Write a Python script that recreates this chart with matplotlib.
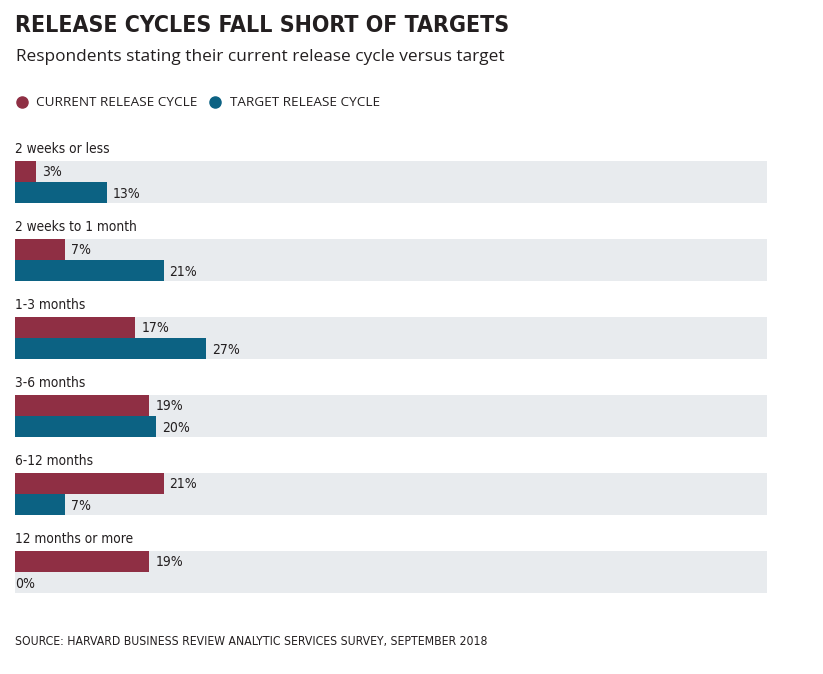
import matplotlib
matplotlib.use("Agg")
import matplotlib.pyplot as plt
from matplotlib.lines import Line2D

# data
categories = ["2 weeks or less", "2 weeks to 1 month", "1-3 months",
              "3-6 months", "6-12 months", "12 months or more"]
current = [3, 7, 17, 19, 21, 19]
target = [13, 21, 27, 20, 7, 0]

c_cur = "#8f2f44"
c_tgt = "#0c6283"
c_band = "#e8ebee"
c_text = "#231f20"

narrow = dict(family="DejaVu Sans", stretch="condensed")
plain = ["Open Sans", "DejaVu Sans"]

W, H = 823, 674
fig = plt.figure(figsize=(W / 100, H / 100), dpi=100)

# axes spans the grey bands (pixels 15..767 wide, 161..593 tall)
ax = fig.add_axes([15 / W, (H - 593) / H, (767 - 15) / W, (593 - 161) / H])
xmax = 106.3
step = 78
bh = 21
ax.set_xlim(0, xmax)
ax.set_ylim(5 * step + 2 * bh, 0)
ax.axis("off")

for i, cat in enumerate(categories):
    y0 = i * step
    ax.barh(y0 + bh, xmax, height=2 * bh, color=c_band, align="center", zorder=1)
    ax.barh(y0 + bh / 2, current[i], height=bh, color=c_cur, zorder=2)
    ax.barh(y0 + 1.5 * bh, target[i], height=bh, color=c_tgt, zorder=2)
    ax.text(0, y0 - 12, cat, fontsize=9.8, color=c_text,
            va="center", ha="left", clip_on=False, **narrow)
    for v, yy in [(current[i], y0 + bh / 2), (target[i], y0 + 1.5 * bh)]:
        off = 0.85 if v > 0 else 0
        ax.text(v + off, yy + 1, f"{v}%", fontsize=10,
                color=c_text, va="center", ha="left", **narrow)

# titles
fig.text(15 / W, 1 - 25 / H, "RELEASE CYCLES FALL SHORT OF TARGETS",
         fontsize=16.6, fontweight="heavy", color=c_text,
         va="center", ha="left", **narrow)
fig.text(16 / W, 1 - 57 / H, "Respondents stating their current release cycle versus target",
         fontsize=12.4, family=plain, color=c_text, va="center", ha="left")

handles = [Line2D([], [], marker="o", ls="", color=c_cur, markersize=8),
           Line2D([], [], marker="o", ls="", color=c_tgt, markersize=8)]
fig.legend(handles, ["CURRENT RELEASE CYCLE", "TARGET RELEASE CYCLE"],
           loc="center left", bbox_to_anchor=(4 / W, 1 - 103 / H), ncol=2,
           frameon=False, handlelength=0.8, handletextpad=0.7, columnspacing=0.9,
           prop={"family": plain, "size": 9.7}, labelcolor=c_text)

fig.text(15 / W, 1 - 641 / H,
         "SOURCE: HARVARD BUSINESS REVIEW ANALYTIC SERVICES SURVEY, SEPTEMBER 2018",
         fontsize=8.7, color=c_text, va="center", ha="left", **narrow)

fig.savefig("out.png", dpi=100, facecolor="white")
